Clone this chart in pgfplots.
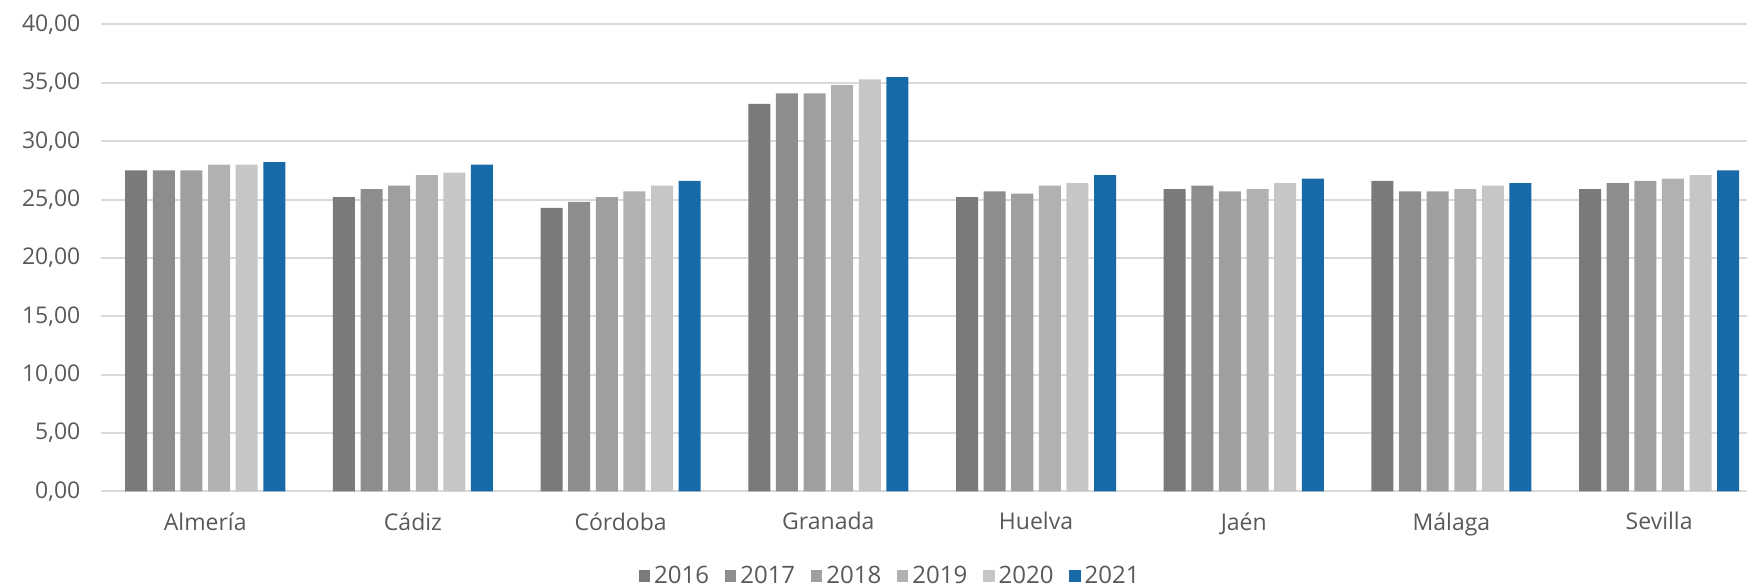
\documentclass[border=0pt]{standalone}
\usepackage{fontspec}
\setmainfont{Open Sans}
\usepackage{pgfplots}
\usepackage{pgfplotstable}
\pgfplotsset{compat=1.18}
\definecolor{c16}{HTML}{7A7A7A}
\definecolor{c17}{HTML}{8D8D8D}
\definecolor{c18}{HTML}{9F9F9F}
\definecolor{c19}{HTML}{B1B1B1}
\definecolor{c20}{HTML}{C6C6C6}
\definecolor{c21}{HTML}{176AA7}
\definecolor{txt}{HTML}{595959}
\definecolor{gridc}{HTML}{D9D9D9}
\pgfplotstableread{
x y16 y17 y18 y19 y20 y21
0 27.5 27.5 27.5 28.0 28.0 28.2
1 25.2 25.9 26.2 27.1 27.3 28.0
2 24.3 24.8 25.2 25.7 26.2 26.6
3 33.2 34.1 34.1 34.8 35.3 35.5
4 25.2 25.7 25.5 26.2 26.4 27.1
5 25.9 26.2 25.7 25.9 26.4 26.8
6 26.6 25.7 25.7 25.9 26.2 26.4
7 25.9 26.4 26.6 26.8 27.1 27.5
}\datatable
\begin{document}
\begin{tikzpicture}
\begin{axis}[
  at={(0,0)}, anchor=south west,
  scale only axis, width=822.8pt, height=233.45pt,
  xmin=-0.5, xmax=7.423, ymin=0, ymax=40,
  ytick={0,5,...,40},
  xtick={0,...,7},
  xticklabels={Almería,Cádiz,Córdoba,Granada,Huelva,Jaén,Málaga,Sevilla},
  axis line style={draw=none},
  major tick length=0pt,
  ymajorgrids, grid style={gridc, line width=1pt},
  yticklabel style={/pgf/number format/fixed, /pgf/number format/fixed zerofill, /pgf/number format/precision=2, /pgf/number format/use comma, /pgf/number format/assume math mode=true, xshift=-7pt},
  xticklabel style={yshift=-7pt},
  tick label style={text=txt, font=\fontsize{11.5}{13}\selectfont},
  ybar, bar width=0.106,
  legend style={at={(0.48,-0.181)}, anchor=center, draw=none, fill=none,
    legend columns=-1, font=\fontsize{12}{13}\selectfont, text=txt,
    /tikz/every even column/.append style={column sep=6pt}},
  legend image code/.code={\fill[#1] (0pt,-2.8pt) rectangle (5.6pt,2.8pt);},
  clip=false,
]
\addplot[fill=c16, draw=none, bar shift=-0.3323] table[x=x,y=y16]{\datatable};
\addplot[fill=c17, draw=none, bar shift=-0.1994] table[x=x,y=y17]{\datatable};
\addplot[fill=c18, draw=none, bar shift=-0.0665] table[x=x,y=y18]{\datatable};
\addplot[fill=c19, draw=none, bar shift=0.0665] table[x=x,y=y19]{\datatable};
\addplot[fill=c20, draw=none, bar shift=0.1994] table[x=x,y=y20]{\datatable};
\addplot[fill=c21, draw=none, bar shift=0.3323] table[x=x,y=y21]{\datatable};
\legend{2016,2017,2018,2019,2020,2021}
\end{axis}
\pgfresetboundingbox
\path[use as bounding box] (-50.7pt,-47.8pt) rectangle (822.8pt,245.7pt);
\end{tikzpicture}
\end{document}
